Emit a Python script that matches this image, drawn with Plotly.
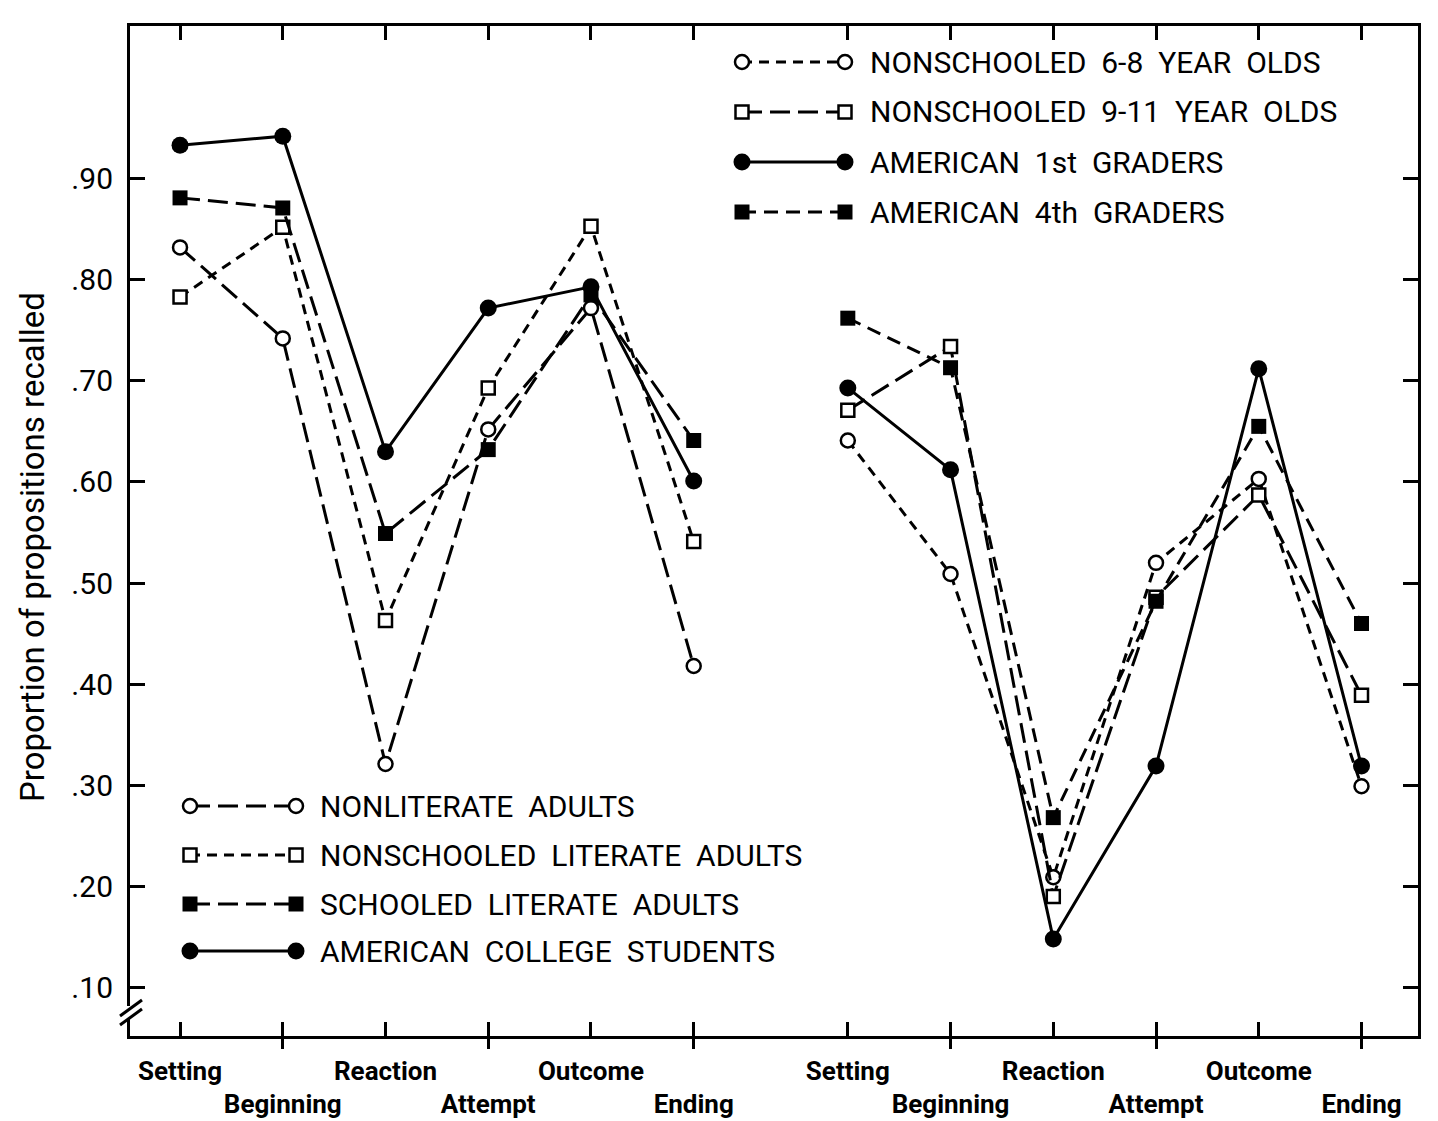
import plotly.graph_objects as go

# ---------------- data ----------------
stages = ["Setting", "Beginning", "Reaction", "Attempt", "Outcome", "Ending"]
x_adult = [0, 1, 2, 3, 4, 5]
x_child = [6.5, 7.5, 8.5, 9.5, 10.5, 11.5]

nonliterate_adults = [0.832, 0.742, 0.321, 0.652, 0.772, 0.418]
nonschooled_literate_adults = [0.783, 0.852, 0.463, 0.693, 0.853, 0.541]
schooled_literate_adults = [0.881, 0.871, 0.549, 0.632, 0.785, 0.641]
american_college_students = [0.933, 0.942, 0.630, 0.772, 0.793, 0.601]

nonschooled_6_8 = [0.641, 0.509, 0.209, 0.520, 0.603, 0.299]
nonschooled_9_11 = [0.671, 0.734, 0.190, 0.486, 0.587, 0.389]
american_1st_graders = [0.693, 0.612, 0.148, 0.319, 0.712, 0.319]
american_4th_graders = [0.762, 0.713, 0.268, 0.482, 0.655, 0.460]

y_tick_values = [0.10, 0.20, 0.30, 0.40, 0.50, 0.60, 0.70, 0.80, 0.90]
y_tick_labels = [".10", ".20", ".30", ".40", ".50", ".60", ".70", ".80", ".90"]
upper_row = ["Setting", "Reaction", "Outcome"]

adult_names = ["NONLITERATE  ADULTS", "NONSCHOOLED  LITERATE  ADULTS",
               "SCHOOLED  LITERATE  ADULTS", "AMERICAN  COLLEGE  STUDENTS"]
child_names = ["NONSCHOOLED  6-8  YEAR  OLDS", "NONSCHOOLED  9-11  YEAR  OLDS",
               "AMERICAN  1st  GRADERS", "AMERICAN  4th  GRADERS"]

# ---------------- styles ----------------
W, H = 1438, 1121
ML, MR, MT, MB = 130, 20, 26, 85
PW, PH = W - ML - MR, H - MT - MB
FONT = "Roboto, 'Liberation Sans', sans-serif"
LONG = "20px,8px"
SHORT = "10px,7px"
MED = "14px,8px"

def mk(kind):
    if kind == "oc":
        return dict(symbol="circle", size=14, color="white", line=dict(color="black", width=2.5))
    if kind == "os":
        return dict(symbol="square", size=13, color="white", line=dict(color="black", width=2.5))
    if kind == "fc":
        return dict(symbol="circle", size=17, color="black", line=dict(color="black", width=0))
    return dict(symbol="square", size=15, color="black", line=dict(color="black", width=0))

adult_series = [
    (adult_names[0], nonliterate_adults, "oc", LONG),
    (adult_names[1], nonschooled_literate_adults, "os", SHORT),
    (adult_names[2], schooled_literate_adults, "fs", LONG),
    (adult_names[3], american_college_students, "fc", "solid"),
]
child_series = [
    (child_names[0], nonschooled_6_8, "oc", SHORT),
    (child_names[1], nonschooled_9_11, "os", LONG),
    (child_names[2], american_1st_graders, "fc", "solid"),
    (child_names[3], american_4th_graders, "fs", MED),
]

fig = go.Figure()
for xs, series in ((x_adult, adult_series), (x_child, child_series)):
    for name, vals, kind, dash in series:
        fig.add_trace(go.Scatter(
            x=xs, y=vals, mode="lines+markers", name=name, showlegend=False,
            line=dict(color="black", width=3, dash=dash),
            marker=mk(kind), xaxis="x", yaxis="y"))

# ---------------- custom legends (pixel helper axes) ----------------
def px_x(px):
    return (px - ML) / PW

def px_y(py):
    return (H - MB - py) / PH

annotations = []
legend_blocks = [
    (adult_series, 190, 296, 318, [806, 855, 904, 951]),
    (child_series, 742, 845, 868, [62, 112, 162, 212]),
]
for series, xa, xb, xt, rows in legend_blocks:
    for (name, vals, kind, dash), ry in zip(series, rows):
        fig.add_trace(go.Scatter(
            x=[xa, xb], y=[ry, ry], mode="lines+markers", showlegend=False,
            line=dict(color="black", width=3, dash=dash), marker=mk(kind),
            xaxis="x2", yaxis="y2", hoverinfo="skip"))
        annotations.append(dict(
            x=px_x(xt), y=px_y(ry), xref="paper", yref="paper", text=name,
            showarrow=False, xanchor="left", yanchor="middle",
            font=dict(family=FONT, size=30, color="black")))

annotations.append(dict(
    x=px_x(32), y=px_y(547), xref="paper", yref="paper",
    text="Proportion of propositions recalled", textangle=-90, showarrow=False,
    xanchor="center", yanchor="middle", font=dict(family=FONT, size=33, color="black")))

all_x = x_adult + x_child
all_labels = stages + stages
main_text = [t if t in upper_row else "" for t in all_labels]
low_vals = [x for x, t in zip(all_x, all_labels) if t not in upper_row]
low_text = [t for t in all_labels if t not in upper_row]

xr = [-0.487, 12.05]
yr = [0.052, 1.051]

fig.update_layout(
    width=W, height=H, margin=dict(l=ML, r=MR, t=MT, b=MB, autoexpand=False),
    paper_bgcolor="white", plot_bgcolor="white", showlegend=False,
    xaxis=dict(range=xr, tickmode="array", tickvals=all_x, ticktext=main_text,
               ticks="inside", ticklen=14, tickwidth=3, tickcolor="black",
               showline=True, linewidth=3, linecolor="black", mirror="ticks",
               showgrid=False, zeroline=False, ticklabelstandoff=10, automargin=False,
               tickfont=dict(family=FONT, size=26, color="black", weight="bold")),
    xaxis3=dict(range=xr, overlaying="x", anchor="y", side="bottom", tickmode="array",
                tickvals=low_vals, ticktext=low_text, ticks="outside", ticklen=12,
                tickwidth=3, tickcolor="black", showline=False, showgrid=False,
                zeroline=False, ticklabelstandoff=33, automargin=False,
                tickfont=dict(family=FONT, size=26, color="black", weight="bold")),
    yaxis=dict(range=yr, tickmode="array", tickvals=y_tick_values, ticktext=y_tick_labels,
               ticks="inside", ticklen=15, tickwidth=3, tickcolor="black",
               showline=True, linewidth=3, linecolor="black", mirror="ticks",
               showgrid=False, zeroline=False, ticklabelstandoff=8, automargin=False,
               tickfont=dict(family=FONT, size=30, color="black")),
    xaxis2=dict(range=[ML, W - MR], overlaying="x", visible=False, fixedrange=True,
                automargin=False),
    yaxis2=dict(range=[H - MB, MT], overlaying="y", visible=False, fixedrange=True,
                automargin=False),
    annotations=annotations,
    shapes=[
        dict(type="rect", xref="paper", yref="paper", x0=px_x(124), x1=px_x(136),
             y0=px_y(1018), y1=px_y(1006), fillcolor="white", line=dict(width=0), layer="above"),
        dict(type="line", xref="paper", yref="paper", x0=px_x(120), x1=px_x(142),
             y0=px_y(1016), y1=px_y(1000), line=dict(color="black", width=3), layer="above"),
        dict(type="line", xref="paper", yref="paper", x0=px_x(120), x1=px_x(142),
             y0=px_y(1025), y1=px_y(1009), line=dict(color="black", width=3), layer="above"),
    ],
)

# a dummy trace so xaxis3 is rendered
fig.add_trace(go.Scatter(x=[None], y=[None], xaxis="x3", yaxis="y", showlegend=False))

fig.write_html("out.html")
